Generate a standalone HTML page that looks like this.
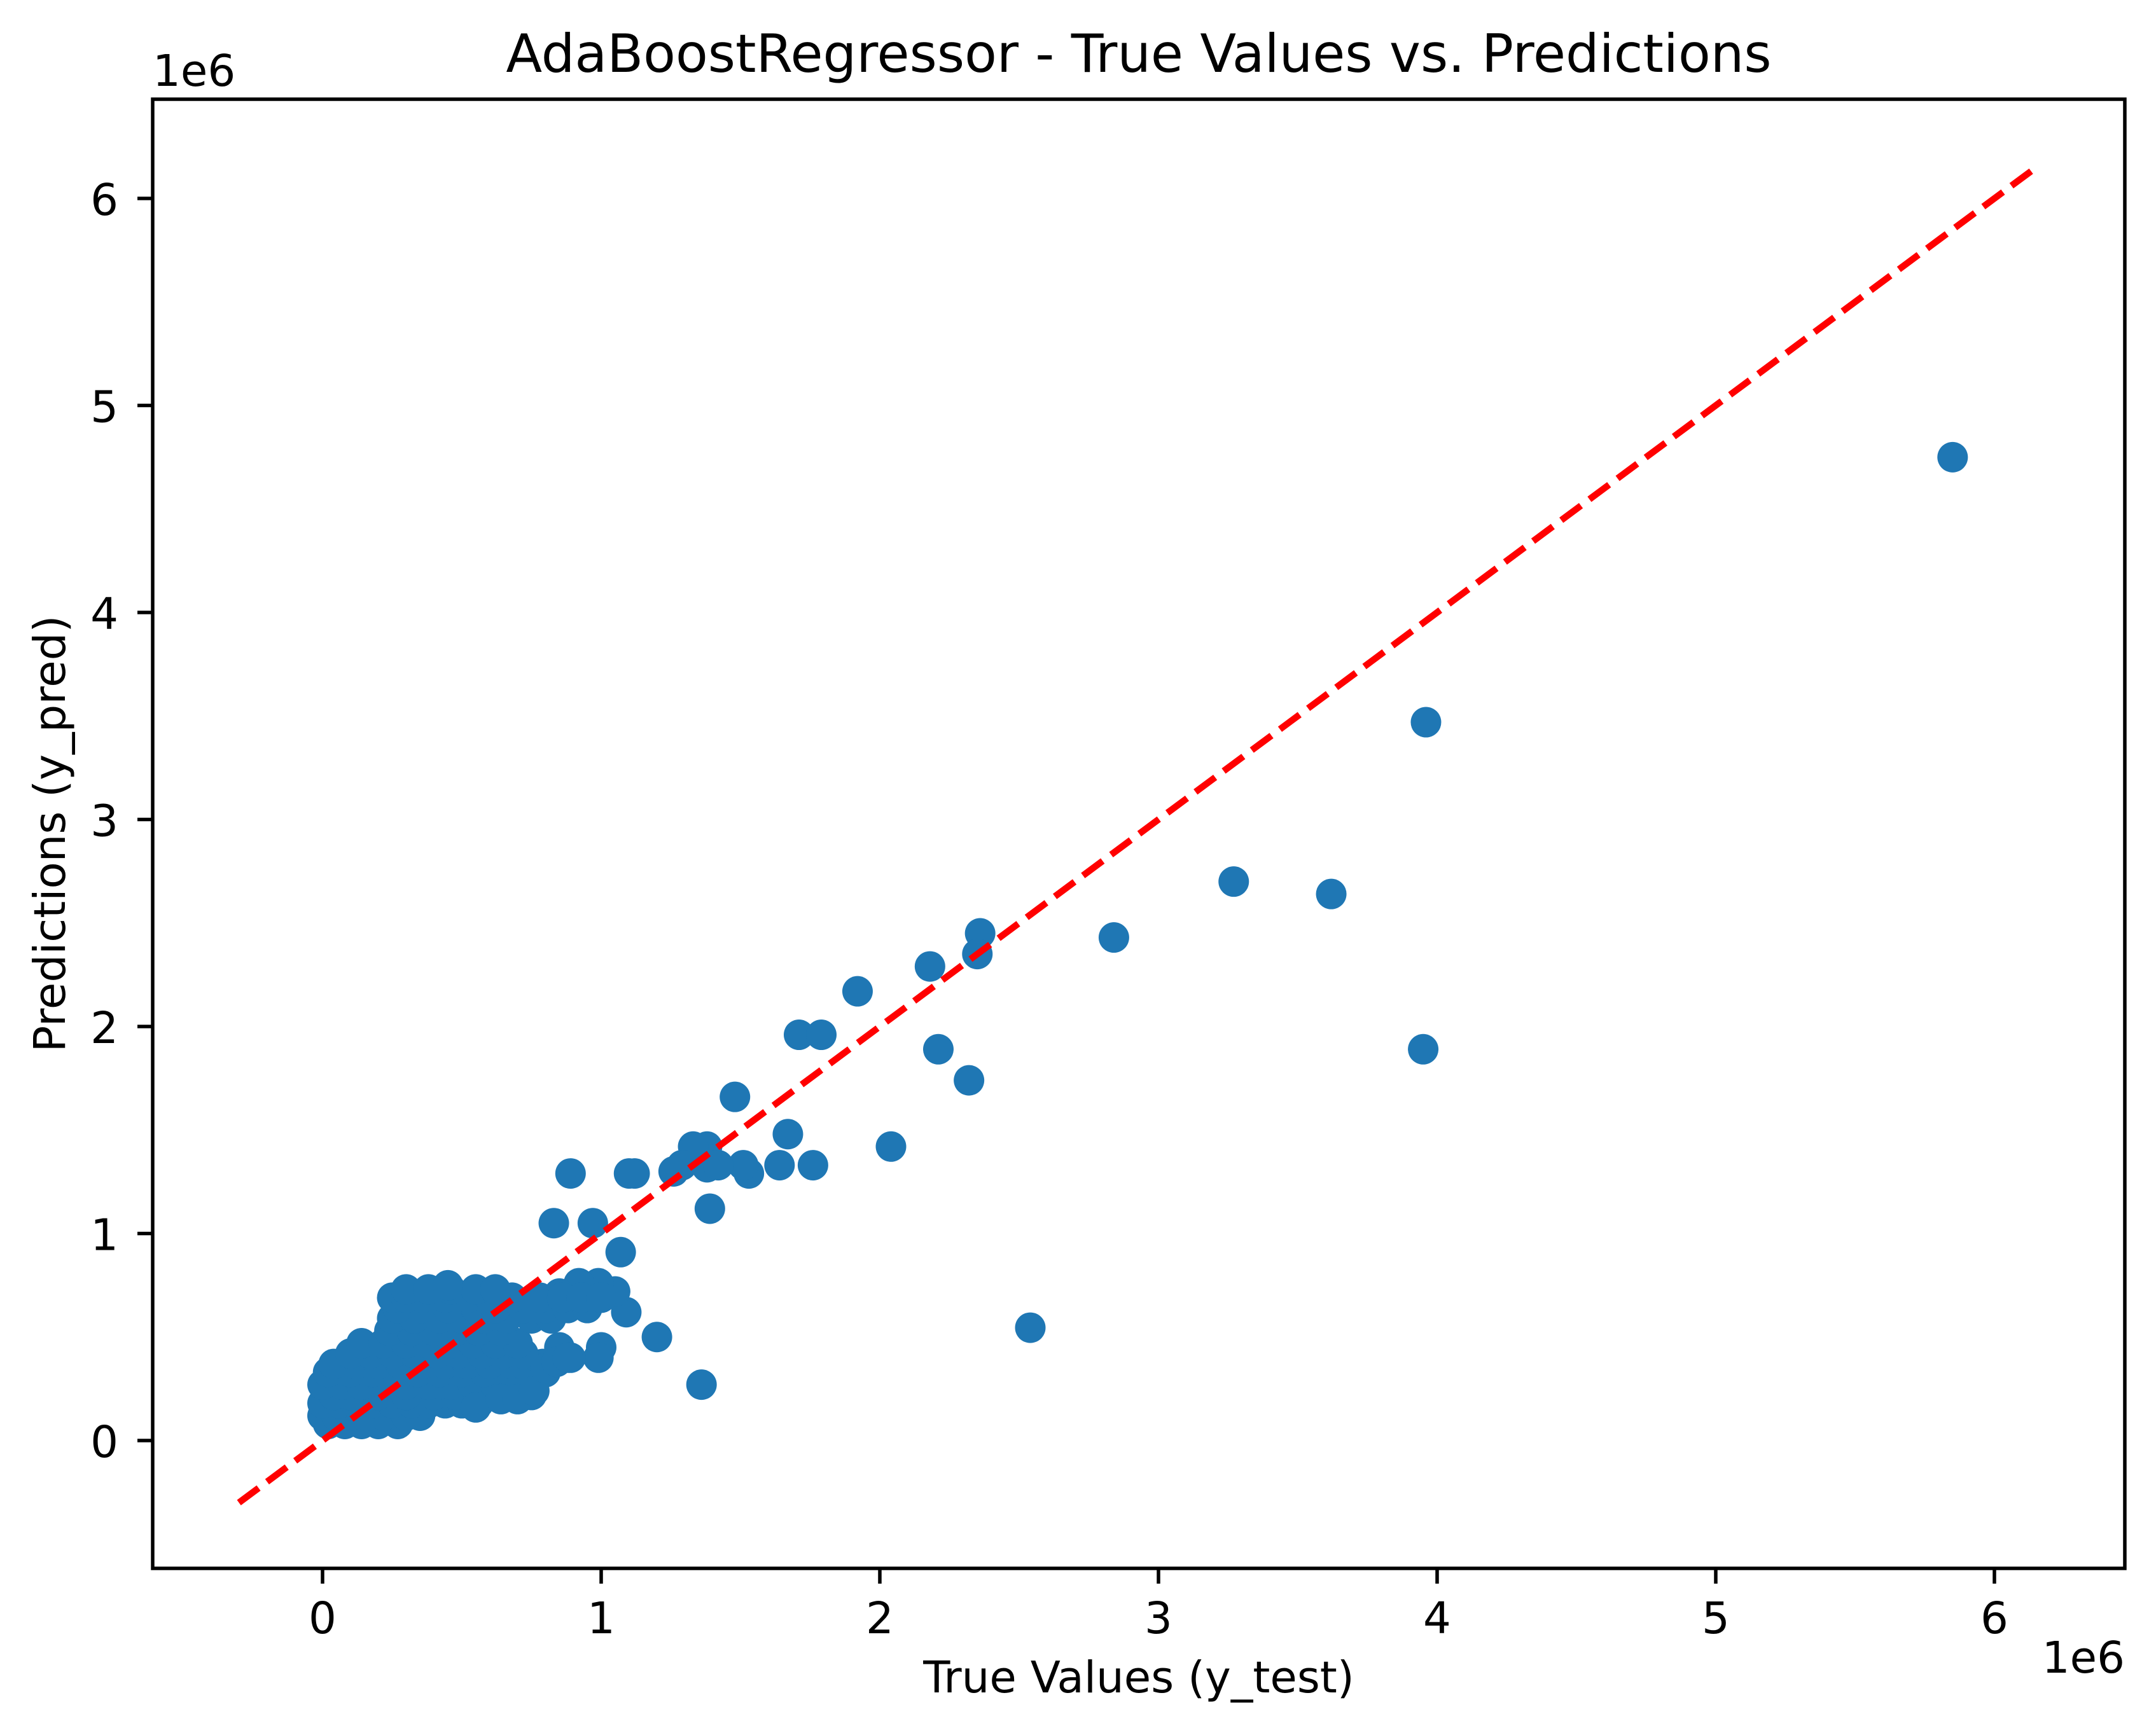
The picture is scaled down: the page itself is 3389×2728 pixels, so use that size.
<!DOCTYPE html>
<html><head><meta charset="utf-8"><style>
html,body{margin:0;padding:0;background:#fff;}
svg{display:block;font-family:"DejaVu Sans","Liberation Sans",sans-serif;}
</style></head><body>
<svg id="chart" width="3389" height="2728" viewBox="0 0 3389 2728" xmlns="http://www.w3.org/2000/svg">
<rect x="0" y="0" width="3389" height="2728" fill="#fff"/>
<g id="points"></g>
<g id="ticks"></g>
<line id="diag" stroke="#ff0000" stroke-width="10.4" stroke-dasharray="38.5 16.6" fill="none"/>
<rect x="240" y="156" width="3100" height="2310" fill="none" stroke="#000" stroke-width="5.5"/>
<text x="1790" y="113" font-size="83" text-anchor="middle">AdaBoostRegressor - True Values vs. Predictions</text>
<text x="240" y="135" font-size="69">1e6</text>
<text x="3340" y="2630" font-size="69" text-anchor="end">1e6</text>
<text x="1790" y="2661" font-size="69" text-anchor="middle">True Values (y_test)</text>
<text x="0" y="0" font-size="69" text-anchor="middle" transform="translate(102,1311) rotate(-90)">Predictions (y_pred)</text>
</svg>
<script>
const xTicks = [0, 1, 2, 3, 4, 5, 6];
const yTicks = [0, 1, 2, 3, 4, 5, 6];
const lineRange = [-0.3, 6.15];
const trueValues = [
5.85,3.96,3.95,3.27,3.62,2.84,2.54,2.36,2.35,2.18,2.21,2.32,1.92,1.71,1.79,2.04,1.48,1.67,1.76,1.64,1.53,1.51,1.39,1.36,1.38,1.33,1.38,1.42,1.26,1.29,1.12,1.10,0.89,0.83,0.97,1.07,1.20,1.09,1.00,0.99,0.85,0.89,1.05,0.99,0.92,0.85,
0.02,0.08,0.14,0.20,0.27,
0.00,0.05,0.10,0.16,0.22,0.30,0.35,
0.00,0.06,0.12,0.18,0.25,0.32,0.38,0.44,0.50,0.56,
0.04,0.10,0.20,0.30,0.40,0.48,0.62,0.68,0.75,
0.00,0.07,0.14,0.22,0.30,0.38,0.46,0.54,0.62,0.70,
0.02,0.10,0.18,0.26,0.34,0.42,0.50,0.58,0.66,0.80,
0.04,0.12,0.20,0.28,0.36,0.44,0.52,0.60,0.68,0.72,0.79,
0.10,0.17,0.25,0.33,0.41,0.49,0.57,0.65,0.72,
0.14,0.22,0.30,0.38,0.46,0.54,0.62,0.70,
0.24,0.32,0.40,0.48,0.56,0.64,
0.25,0.33,0.42,0.50,0.58,0.66,0.75,0.82,
0.27,0.35,0.45,0.55,0.62,0.72,0.80,0.88,0.95,
0.25,0.30,0.36,0.44,0.52,0.60,0.68,0.78,0.86,0.93,1.00,
0.30,0.38,0.46,0.55,0.62,0.45,
0.55,0.64,0.70,0.76,0.80,0.84,0.88
];
const predValues = [
4.75,3.47,1.89,2.70,2.64,2.43,0.545,2.45,2.35,2.29,1.89,1.74,2.17,1.96,1.96,1.42,1.66,1.48,1.33,1.33,1.29,1.33,1.12,0.27,1.42,1.42,1.32,1.33,1.30,1.33,1.29,1.29,1.29,1.05,1.05,0.91,0.50,0.62,0.45,0.40,0.45,0.40,0.72,0.76,0.76,0.71,
0.08,0.08,0.08,0.08,0.08,
0.12,0.12,0.12,0.12,0.12,0.12,0.12,
0.18,0.18,0.18,0.18,0.18,0.18,0.18,0.18,0.18,0.18,
0.22,0.22,0.22,0.22,0.22,0.22,0.22,0.22,0.22,
0.27,0.27,0.27,0.27,0.27,0.27,0.27,0.27,0.27,0.27,
0.33,0.33,0.33,0.33,0.33,0.33,0.33,0.33,0.33,0.33,
0.37,0.37,0.37,0.37,0.37,0.37,0.37,0.37,0.37,0.37,0.37,
0.42,0.42,0.42,0.42,0.42,0.42,0.42,0.42,0.42,
0.47,0.47,0.47,0.47,0.47,0.47,0.47,0.47,
0.53,0.53,0.53,0.53,0.53,0.53,
0.59,0.59,0.59,0.59,0.59,0.59,0.59,0.59,
0.64,0.64,0.64,0.64,0.64,0.64,0.64,0.64,0.64,
0.69,0.69,0.69,0.69,0.69,0.69,0.69,0.69,0.69,0.69,0.69,
0.73,0.73,0.73,0.73,0.73,0.75,
0.16,0.20,0.20,0.24,0.35,0.38,0.40
];
const NS = "http://www.w3.org/2000/svg";
function xScale(v){ return 507 + v * 438; }
function yScale(v){ return 2265 - v * 325.5; }
const pts = document.getElementById('points');
for (let i = 0; i < trueValues.length; i++) {
  const c = document.createElementNS(NS, 'circle');
  c.setAttribute('cx', xScale(trueValues[i]));
  c.setAttribute('cy', yScale(predValues[i]));
  c.setAttribute('r', 24);
  c.setAttribute('fill', '#1f77b4');
  
  
  pts.appendChild(c);
}
const ln = document.getElementById('diag');
ln.setAttribute('x1', xScale(lineRange[0]));
ln.setAttribute('y1', yScale(lineRange[0]));
ln.setAttribute('x2', xScale(lineRange[1]));
ln.setAttribute('y2', yScale(lineRange[1]));
const tg = document.getElementById('ticks');
xTicks.forEach(function(t){
  const x = xScale(t);
  const l = document.createElementNS(NS, 'line');
  l.setAttribute('x1', x); l.setAttribute('x2', x);
  l.setAttribute('y1', 2466); l.setAttribute('y2', 2490);
  l.setAttribute('stroke', '#000'); l.setAttribute('stroke-width', 5.5);
  
  
  tg.appendChild(l);
  const tx = document.createElementNS(NS, 'text');
  tx.setAttribute('x', x); tx.setAttribute('y', 2568);
  tx.setAttribute('font-size', 69); tx.setAttribute('text-anchor', 'middle');
  tx.textContent = String(t);
  
  
  tg.appendChild(tx);
});
yTicks.forEach(function(t){
  const y = yScale(t);
  const l = document.createElementNS(NS, 'line');
  l.setAttribute('x1', 216); l.setAttribute('x2', 240);
  l.setAttribute('y1', y); l.setAttribute('y2', y);
  l.setAttribute('stroke', '#000'); l.setAttribute('stroke-width', 5.5);
  
  
  tg.appendChild(l);
  const tx = document.createElementNS(NS, 'text');
  tx.setAttribute('x', 186); tx.setAttribute('y', y + 26);
  tx.setAttribute('font-size', 69); tx.setAttribute('text-anchor', 'end');
  tx.textContent = String(t);
  
  
  tg.appendChild(tx);
});
</script>
</body></html>
